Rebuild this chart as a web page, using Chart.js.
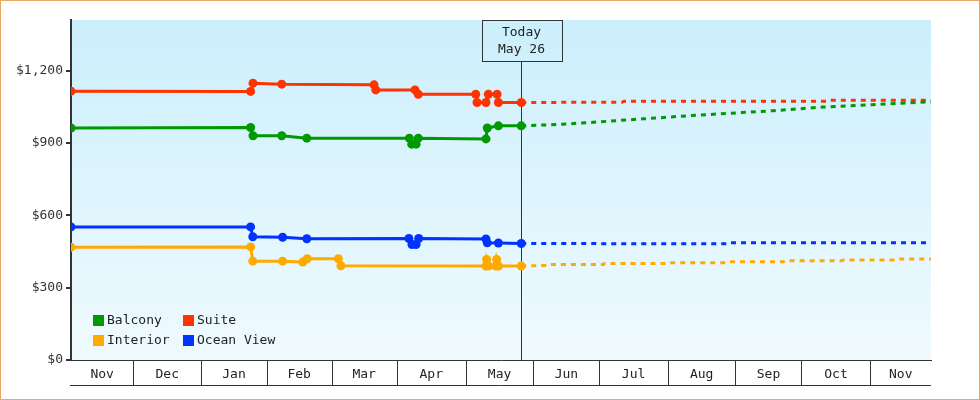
<!DOCTYPE html>
<html><head><meta charset="utf-8">
<script src="https://cdn.jsdelivr.net/npm/chart.js@4"></script>
<style>html,body{margin:0;padding:0;background:#fff}#wrap{width:980px;height:400px}</style>
</head><body><div id="wrap"><canvas id="c" width="980" height="400"></canvas></div>
<script>
// ---- data ----
const monthLabels = ['Nov','Dec','Jan','Feb','Mar','Apr','May','Jun','Jul','Aug','Sep','Oct','Nov'];
const monthEdges = [0, 28.6, 59.8, 89.9, 119.7, 149.6, 181.3, 212.4, 242.7, 274.1, 305.2, 335.5, 367.2, 395];
const yTickValues = [0, 300, 600, 900, 1200];
const todayDay = 206.8;
const todayText = ['Today', 'May 26'];
const seriesNames = ['Balcony', 'Suite', 'Interior', 'Ocean View'];

const balconyDays   = [0, 82.5, 83.6, 96.8, 108.3, 155.4, 156.5, 158.5, 159.5, 190.6, 191.2, 196.3, 206.8, 224.6, 239.9, 262.9, 285.1, 308.1, 322.6, 345.5, 367.8, 395];
const balconyPrices = [962, 964, 930, 930, 920, 920, 895, 895, 920, 917, 962, 971, 971, 977, 986, 1000, 1014, 1026, 1034, 1049, 1059, 1071];

const suiteDays   = [0, 82.5, 83.6, 96.8, 139.2, 140.0, 158.0, 159.5, 185.9, 186.5, 190.6, 191.7, 195.7, 196.3, 206.8, 253.1, 254.0, 346.8, 347.7, 395];
const suitePrices = [1115, 1114, 1148, 1144, 1141, 1120, 1120, 1102, 1102, 1068, 1068, 1102, 1102, 1068, 1068, 1069, 1073, 1073, 1077, 1077];

const interiorDays   = [0, 82.5, 83.5, 97.2, 106.4, 108.5, 122.8, 124.0, 190.6, 190.9, 191.8, 195.2, 195.5, 196.3, 206.8, 218.5, 219.0, 244.5, 245.0, 273.6, 274.0, 301.2, 302.0, 327.2, 328.0, 354.0, 355.0, 379.3, 380.0, 395];
const interiorPrices = [468, 469, 410, 410, 406, 420, 420, 391, 390, 417, 390, 390, 417, 390, 390, 392, 396, 396, 400, 400, 403, 403, 407, 407, 412, 412, 415, 415, 419, 419];

const oceanDays   = [0, 82.5, 83.5, 97.2, 108.3, 155.2, 156.6, 158.5, 159.7, 190.6, 191.2, 196.3, 206.8, 301.2, 302.1, 395];
const oceanPrices = [552, 552, 511, 509, 503, 504, 479, 479, 504, 502, 486, 485, 483, 482, 486, 486];

// ---- styles ----
const seriesColors = ['#009900', '#ff3300', '#ffaa00', '#0033ff'];
const INK = '#333333';
const FONT = "'DejaVu Sans Mono', 'Liberation Mono', monospace";

Chart.defaults.font.family = FONT;
Chart.defaults.font.size = 13;
Chart.defaults.color = '#222';

function pts(days, prices) { return days.map((d, i) => ({ x: d, y: prices[i] })); }
const seriesData = [pts(balconyDays, balconyPrices), pts(suiteDays, suitePrices), pts(interiorDays, interiorPrices), pts(oceanDays, oceanPrices)];

const datasets = seriesNames.map((name, i) => ({
  label: name,
  data: seriesData[i],
  borderColor: seriesColors[i],
  backgroundColor: seriesColors[i],
  borderWidth: 3,
  tension: 0,
  fill: false,
  pointStyle: 'circle',
  pointRadius: ctx => (ctx.raw && ctx.raw.x <= todayDay + 0.01 ? 4.5 : 0),
  pointBorderWidth: 0,
  pointHoverRadius: 0,
  segment: {
    borderDash: ctx => (ctx.p0.parsed.x >= todayDay - 0.01 ? [5, 5] : undefined)
  }
}));

const decor = {
  id: 'decor',
  beforeDraw(chart) {
    const { ctx, chartArea: a } = chart;
    ctx.save();
    ctx.fillStyle = '#fff';
    ctx.fillRect(0, 0, chart.width, chart.height);
    const g = ctx.createLinearGradient(0, a.top, 0, a.bottom);
    g.addColorStop(0, '#cbeffc');
    g.addColorStop(1, '#f0fafe');
    ctx.fillStyle = g;
    ctx.fillRect(a.left, a.top, a.right - a.left, a.bottom - a.top);
    ctx.restore();
  },
  beforeDatasetsDraw(chart) {
    const { ctx, chartArea: a, scales } = chart;
    const tx = Math.round(scales.x.getPixelForValue(todayDay)) + 0.5;
    const bw = 80, bh = 41;
    const bx = Math.round(tx - bw / 2) + 0.5, by = a.top + 0.5;
    ctx.save();
    ctx.strokeStyle = INK;
    ctx.lineWidth = 1;
    ctx.beginPath();
    ctx.moveTo(tx, by + bh);
    ctx.lineTo(tx, a.bottom);
    ctx.stroke();
    ctx.strokeRect(bx, by, bw, bh);
    ctx.fillStyle = '#222';
    ctx.font = '13px ' + FONT;
    ctx.textAlign = 'center';
    ctx.textBaseline = 'middle';
    ctx.fillText(todayText[0], tx, a.top + 12.5);
    ctx.fillText(todayText[1], tx, a.top + 29.5);
    ctx.restore();
  },
  afterDraw(chart) {
    const { ctx, chartArea: a, scales } = chart;
    const xs = scales.x;
    ctx.save();
    ctx.strokeStyle = INK;
    ctx.lineWidth = 1;
    ctx.beginPath();
    for (let i = 1; i < monthEdges.length - 1; i++) {
      const px = Math.round(xs.getPixelForValue(monthEdges[i])) + 0.5;
      ctx.moveTo(px, a.bottom);
      ctx.lineTo(px, a.bottom + 25);
    }
    ctx.moveTo(a.left - 1, a.bottom + 25.5);
    ctx.lineTo(a.right, a.bottom + 25.5);
    ctx.stroke();

    // legend (2 x 2 grid, inside plot)
    ctx.font = '13px ' + FONT;
    ctx.textBaseline = 'middle';
    ctx.textAlign = 'left';
    chart.data.datasets.forEach((ds, i) => {
      const col = i % 2, row = Math.floor(i / 2);
      const x = a.left + 22 + col * 90;
      const y = a.bottom - 40 + row * 20;
      ctx.fillStyle = ds.borderColor;
      ctx.fillRect(x, y - 5, 11, 11);
      ctx.fillStyle = '#222';
      ctx.fillText(ds.label, x + 14, y + 0.5);
    });

    // outer frame
    ctx.strokeStyle = '#eaa865';
    ctx.lineWidth = 1;
    ctx.strokeRect(0.5, 0.5, chart.width - 1, chart.height - 1);
    ctx.restore();
  }
};

new Chart(document.getElementById('c'), {
  type: 'line',
  data: { datasets },
  options: {
    responsive: false,
    animation: false,
    events: [],
    devicePixelRatio: 1,
    layout: { padding: { top: 20, right: 49, bottom: 15, left: 0 } },
    plugins: { legend: { display: false }, tooltip: { enabled: false } },
    scales: {
      x: {
        type: 'linear', min: 0, max: 395, position: 'bottom',
        afterFit: s => { s.height = 25; },
        afterBuildTicks: s => {
          s.ticks = monthLabels.map((m, i) => ({ value: (monthEdges[i] + monthEdges[i + 1]) / 2 }));
        },
        ticks: { autoSkip: false, maxRotation: 0, minRotation: 0, padding: 7, color: '#222',
          callback: (v, i) => monthLabels[i] },
        grid: { display: false, drawTicks: false },
        border: { display: true, color: INK, width: 1 }
      },
      y: {
        type: 'linear', min: 0, max: 1410,
        afterFit: s => { s.width = 71; },
        afterBuildTicks: s => { s.ticks = yTickValues.map(v => ({ value: v })); },
        ticks: { padding: 3, color: '#333', callback: v => '$' + Number(v).toLocaleString('en-US') },
        grid: { drawOnChartArea: false, drawTicks: true, tickLength: 5, color: INK, lineWidth: 2 },
        border: { display: true, color: INK, width: 2 }
      }
    }
  },
  plugins: [decor]
});
</script>
</body></html>
